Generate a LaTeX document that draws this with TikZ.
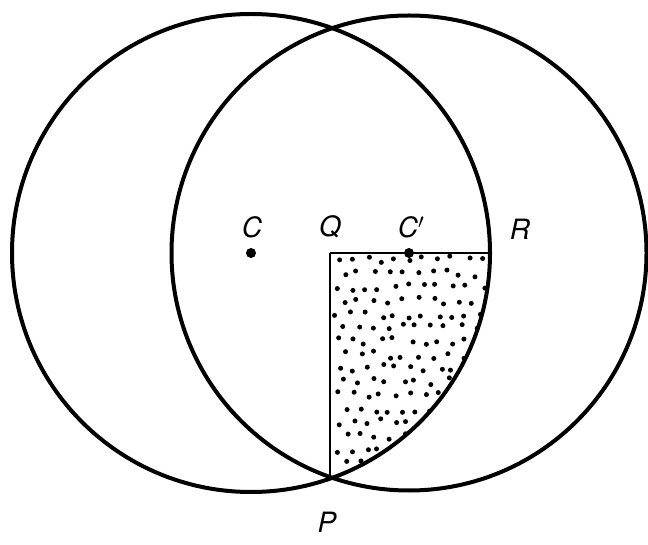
\documentclass[tikz,border=0pt]{standalone}
\usepackage{fontspec}
\setmainfont{TeX Gyre Heros}
\begin{document}
\begin{tikzpicture}[x=1pt,y=1pt,
  circ/.style={line width=4pt},
  seg/.style={line width=2pt},
  lbl/.style={font=\fontsize{28}{32}\selectfont\itshape, inner sep=0pt},
  ctr/.style={fill, circle, minimum size=10pt, inner sep=0pt}]
\useasboundingbox (0,0) rectangle (648,544);
\coordinate (C) at (251,291);
\coordinate (Cp) at (409,291);
\coordinate (Q) at (330,291);
\coordinate (R) at (490,291);
\coordinate (P) at (330,65.4);
% dotted region
\begin{scope}
  \clip (Q) -- (R) arc[start angle=0, end angle={-acos(79/239)}, radius=239pt] -- cycle;
  \pgfmathsetseed{11}
  \foreach \i in {0,...,11}{
    \foreach \j in {0,...,16}{
      \pgfmathsetmacro\xx{337+\i*14.5+mod(\j,2)*7.2+rand*4}
      \pgfmathsetmacro\yy{284-\j*13.5+rand*4}
      \fill (\xx pt,\yy pt) circle (2.5pt);
    }
  }
\end{scope}
\draw[seg] (Q) -- (R);
\draw[seg] (Q) -- (P);
\draw[circ] (C) circle (239pt);
\draw[circ] (Cp) circle (237.5pt);
\node[ctr] (dC) at (C) {};
\node[ctr] (dCp) at (Cp) {};
\node[lbl] (lC) at (252,317) {C};
\node[lbl] (lQ) at (330,317) {Q};
\node[lbl] (lCp) at (411,317) {C$'$};
\node[lbl] (lR) at (520,315) {R};
\node[lbl] (lP) at (327,22) {P};
\end{tikzpicture}
\end{document}
